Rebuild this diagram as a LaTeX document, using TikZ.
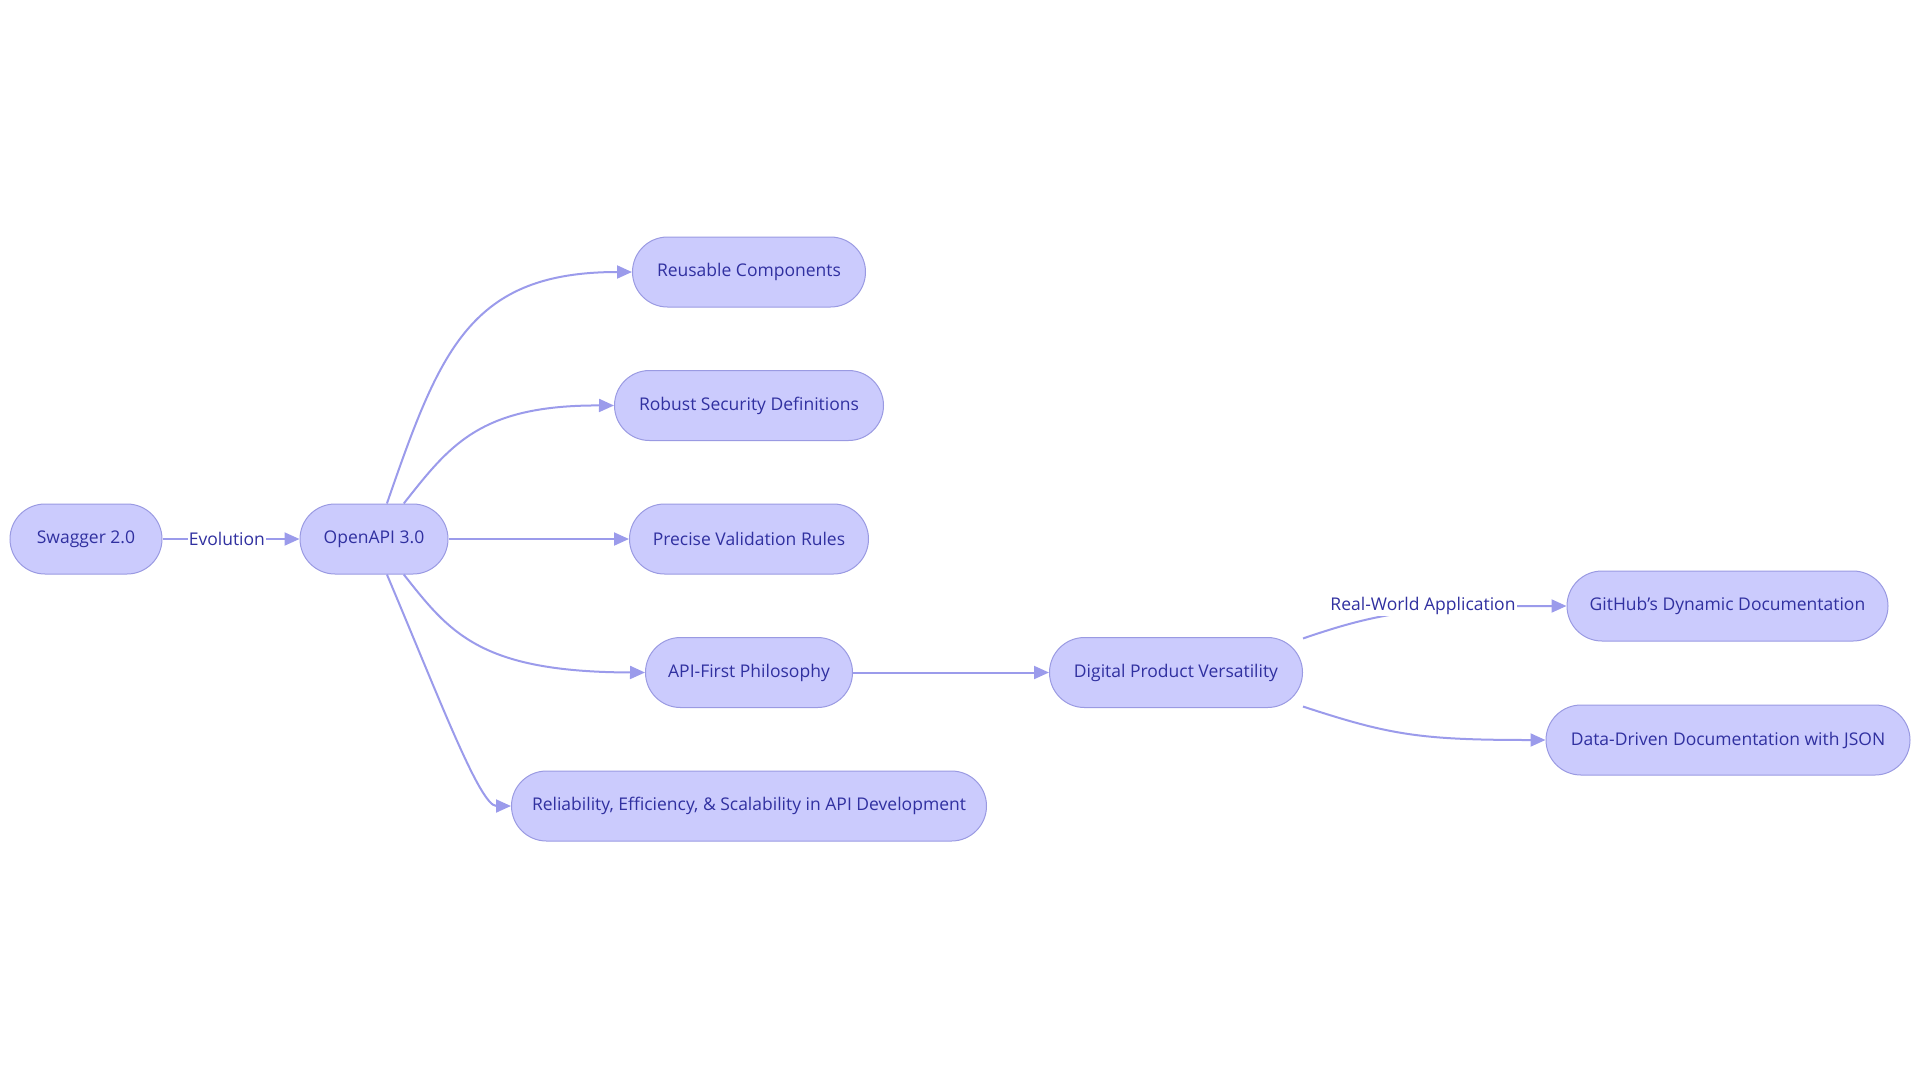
\documentclass[tikz,border=0pt]{standalone}
\usepackage{fontspec}
\setmainfont{Open Sans}
\usepackage{tikz}
\usetikzlibrary{positioning, arrows.meta}
\definecolor{nodefill}{HTML}{CBCBFD}
\definecolor{nodeedge}{HTML}{9A9AE2}
\definecolor{wire}{HTML}{9B9BEB}
\definecolor{ink}{HTML}{3030A0}
\tikzset{
  pill/.style = {rectangle, rounded corners=35pt, draw=nodeedge, line width=1pt,
                 fill=nodefill, minimum height=70pt, inner xsep=0pt,
                 text=ink, font=\fontsize{17.5}{20}\selectfont},
  lbl/.style  = {fill=white, text=ink, inner sep=1pt, font=\fontsize{17.5}{20}\selectfont},
  ar/.style   = {-{Triangle[length=15pt,width=13pt]}, line width=2pt, draw=wire},
}

\begin{document}
\begin{tikzpicture}[x=1pt, y=1pt]
  \useasboundingbox (0,0) rectangle (1920,-1080);

  \node[pill, minimum width=152pt] (swg) at (86,-539) {Swagger 2.0};
  \node[pill, minimum width=148pt] (oapi) at (374,-539) {OpenAPI 3.0};

  \node[pill, minimum width=233pt] (reu) at (749,-272) {Reusable Components};
  \node[pill, minimum width=269pt, below=62.5pt of reu] (sec) {Robust Security Definitions};
  \node[pill, minimum width=239pt, below=62.5pt of sec] (val) {Precise Validation Rules};
  \node[pill, minimum width=207pt, below=62.5pt of val] (apif) {API-First Philosophy};
  \node[pill, minimum width=475pt, below=62.5pt of apif] (rel)
       {Reliability, Efficiency, \& Scalability in API Development};

  \node[pill, minimum width=253pt, right=196pt of apif] (dig) {Digital Product Versatility};
  \node[pill, minimum width=321pt] (gh) at (1727.5,-606) {GitHub's Dynamic Documentation};
  \node[pill, minimum width=364pt] (json) at (1728,-740) {Data-Driven Documentation with JSON};

  \draw[ar] (swg.east) -- (oapi.west) node[lbl, pos=0.47] (evo) {Evolution};

  \draw[ar] (oapi.70) .. controls (440,-350) and (470,-272) .. (reu.west);
  \draw[ar] (oapi.50) .. controls (450,-445) and (480,-405) .. (sec.west);
  \draw[ar] (oapi.east) -- (val.west);
  \draw[ar] (oapi.-50) .. controls (450,-633) and (480,-672) .. (apif.west);
  \draw[ar] (oapi.-70) .. controls (440,-700) and (480,-806) .. (rel.west);

  \draw[ar] (apif.east) -- (dig.west);
  \draw[ar] (dig.15) .. controls (1380,-612) and (1420,-606) .. (gh.west);
  \node[lbl] (rwa) at (1423,-606) {Real-World Application};
  \draw[ar] (dig.-15) .. controls (1390,-735) and (1420,-740) .. (json.west);

\end{tikzpicture}
\end{document}
